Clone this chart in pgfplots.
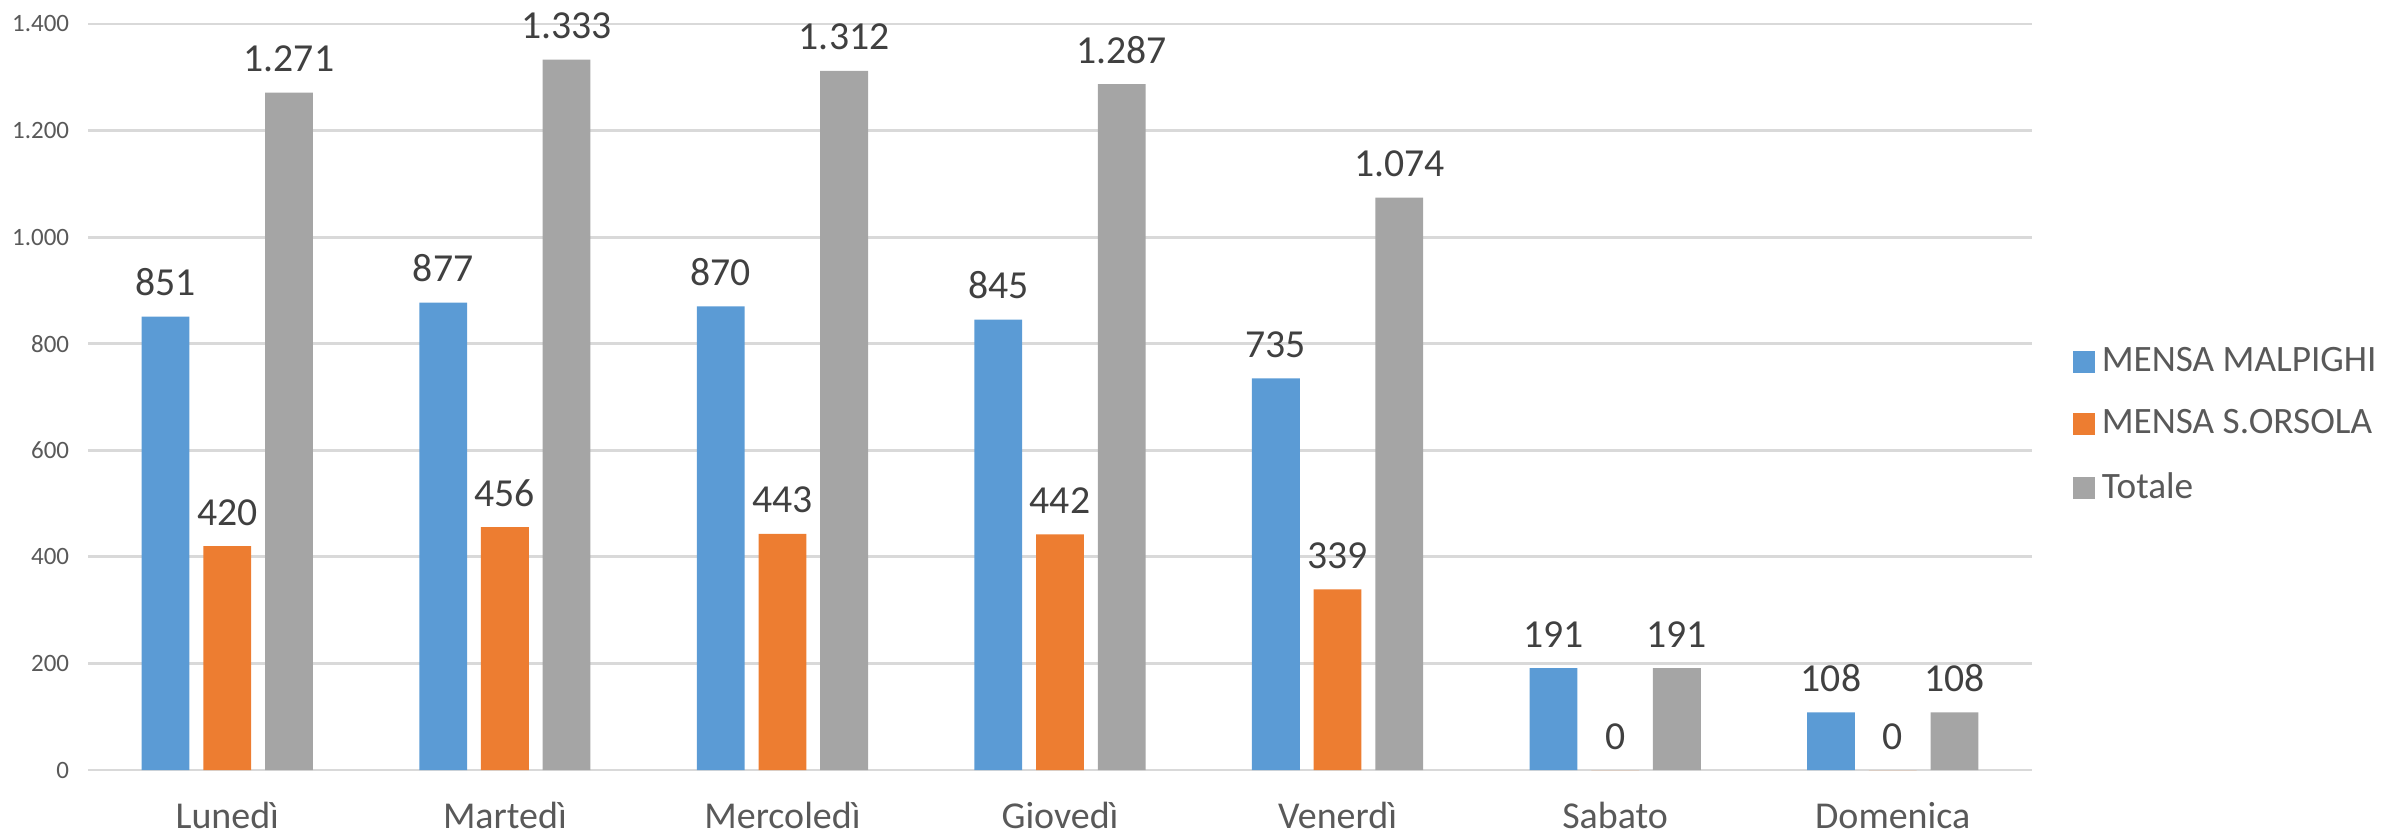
\documentclass[border=0pt]{standalone}
\usepackage{fontspec}
\setmainfont{Carlito}
\usepackage{pgfplots}
\pgfplotsset{compat=1.18}
\definecolor{malpighi}{HTML}{5B9BD5}
\definecolor{orsola}{HTML}{ED7D31}
\definecolor{totale}{HTML}{A5A5A5}
\definecolor{gridgray}{HTML}{D9D9D9}
\definecolor{ticktext}{HTML}{595959}
\definecolor{labeltext}{HTML}{404040}

\begin{document}
\begin{tikzpicture}
\useasboundingbox (-0.885,-0.64) rectangle (23.185,7.70);
\begin{axis}[
  at={(0,0)}, anchor=south west,
  width=19.43cm, height=7.46cm, scale only axis,
  ybar=0.139cm, bar width=0.478cm,
  xmin=-0.5, xmax=6.5, ymin=0, ymax=1400,
  xtick=data,
  xticklabels={Lunedì, Martedì, Mercoledì, Giovedì, Venerdì, Sabato, Domenica},
  ytick={0,200,...,1400},
  ymajorgrids, grid style={draw=gridgray, line width=0.8pt},
  axis line style={draw=none}, major tick length=0pt,
  /pgf/number format/.cd, 1000 sep={.}, assume math mode=true, /pgfplots/.cd,
  xticklabel style={font=\fontsize{10.8}{12}\selectfont, text=ticktext, yshift=-0.2cm},
  yticklabel style={font=\fontsize{7.1}{8}\selectfont, text=ticktext, xshift=-0.07cm},
  nodes near coords,
  every node near coord/.append style={font=\fontsize{11.3}{13}\selectfont, text=labeltext, inner sep=0pt, yshift=0.2cm},
  legend style={at={(1,0.462)}, anchor=west, xshift=0.3cm, draw=none, fill=none,
    font=\fontsize{10.6}{12}\selectfont, text=ticktext, row sep=0.19cm},
  legend cell align=left,
  legend image code/.code={\fill[#1] (0cm,-0.11cm) rectangle (0.22cm,0.11cm);},
]
\addplot[fill=malpighi, draw=none] coordinates {
  (0,851) (1,877) (2,870) (3,845) (4,735) (5,191) (6,108)
};
\addlegendentry{MENSA MALPIGHI}
\addplot[fill=orsola, draw=none] coordinates {
  (0,420) (1,456) (2,443) (3,442) (4,339) (5,0) (6,0)
};
\addlegendentry{MENSA S.ORSOLA}
\addplot[fill=totale, draw=none] coordinates {
  (0,1271) (1,1333) (2,1312) (3,1287) (4,1074) (5,191) (6,108)
};
\addlegendentry{Totale}
\end{axis}
\end{tikzpicture}
\end{document}
